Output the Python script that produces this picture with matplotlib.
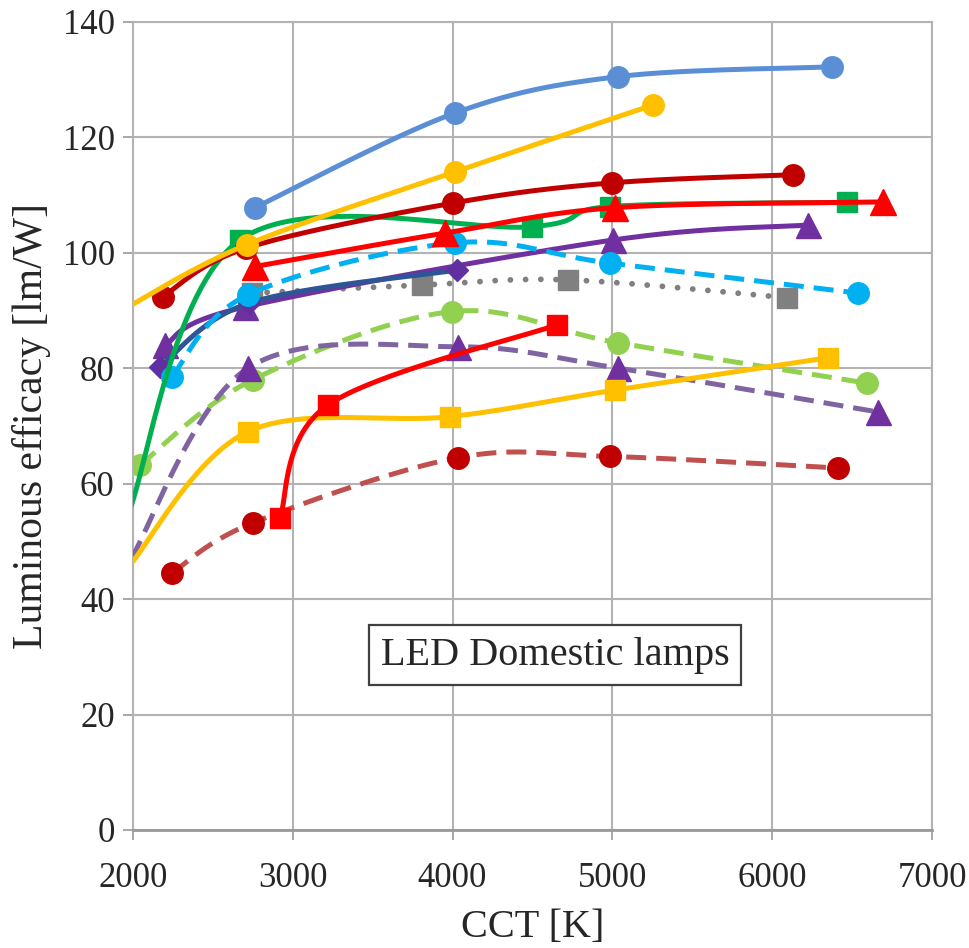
import numpy as np
import matplotlib
matplotlib.use("Agg")
import matplotlib.pyplot as plt

# CCT [K] and luminous efficacy [lm/W] of each lamp series
blue_cct = [2763, 4015, 5035, 6374]
blue_eff = [107.8, 124.2, 130.5, 132.2]

yellow_circ_cct = [1950, 2713, 4015, 5254]     # first point lies left of the axis
yellow_circ_eff = [90.3, 101.4, 114.0, 125.6]

darkred_cct = [2188, 2710, 4003, 4997, 6130]    # 2710 point hidden under the yellow one
darkred_eff = [92.4, 100.8, 108.6, 112.1, 113.5]

green_cct = [1975, 2670, 4497, 4985, 6468]      # first point lies left of the axis
green_eff = [55.0, 102.2, 104.5, 108.0, 108.7]

red_tri_cct = [2763, 3952, 5016, 6694]
red_tri_eff = [97.6, 103.4, 107.8, 108.8]

cyan_cct = [2244, 2720, 4015, 4985, 6537]
cyan_eff = [78.5, 92.7, 101.7, 98.2, 93.0]

purple_cct = [2200, 2700, 5004, 6224]
purple_eff = [84.0, 90.6, 102.2, 104.8]

navy_cct = [2169, 2730, 4028]
navy_eff = [80.2, 91.3, 97.0]

gray_cct = [2745, 3808, 4722, 6093]
gray_eff = [93.0, 94.4, 95.3, 92.2]

lgreen_cct = [2044, 2751, 3996, 5035, 6593]
lgreen_eff = [63.2, 78.0, 89.8, 84.4, 77.4]

lavender_cct = [1990, 2720, 4034, 5035, 6663]   # first point lies left of the axis
lavender_eff = [47.0, 80.0, 83.7, 80.0, 72.4]

yellow_sq_cct = [1985, 2720, 3984, 5016, 6349]  # first point lies left of the axis
yellow_sq_eff = [46.0, 69.0, 71.6, 76.2, 81.8]

red_sq_cct = [2920, 3220, 4653]
red_sq_eff = [54.1, 73.6, 87.5]

brick_cct = [2244, 2751, 4034, 4985, 6412]
brick_eff = [44.5, 53.2, 64.5, 64.7, 62.7]

x_ticks = [2000, 3000, 4000, 5000, 6000, 7000]
y_ticks = [0, 20, 40, 60, 80, 100, 120, 140]


def smooth(x, y, n=60):
    # spreadsheet style smoothed line (Catmull-Rom as cubic Bezier)
    x = np.asarray(x, float)
    y = np.asarray(y, float)
    px = np.concatenate([[x[0]], x, [x[-1]]])
    py = np.concatenate([[y[0]], y, [y[-1]]])
    t = np.linspace(0, 1, n)
    xs, ys = [], []
    for i in range(len(x) - 1):
        for p, out in ((px, xs), (py, ys)):
            p0, p1, p2, p3 = p[i], p[i + 1], p[i + 2], p[i + 3]
            c1 = p1 + (p2 - p0) / 6
            c2 = p2 - (p3 - p1) / 6
            b = (1 - t) ** 3 * p1 + 3 * (1 - t) ** 2 * t * c1 + 3 * (1 - t) * t ** 2 * c2 + t ** 3 * p2
            out.extend(b)
    return np.array(xs), np.array(ys)


plt.rcParams['font.family'] = ['Liberation Serif', 'DejaVu Serif']

fig = plt.figure(figsize=(9.69, 9.48), dpi=100)
ax = fig.add_axes([0.137, 0.1245, 0.825, 0.8525])

dash = (0, (4, 2))
dots = (0, (0.01, 2.6))

series = [
    # x, y, line colour, marker colour, marker, size, linestyle, hidden first points
    (gray_cct, gray_eff, '#808080', '#808080', 's', 15, dots, 0),
    (purple_cct, purple_eff, '#7030A0', '#7030A0', '^', 18, '-', 0),
    (navy_cct, navy_eff, '#2F5597', '#6030A0', 'D', 11, '-', 0),
    (cyan_cct, cyan_eff, '#00B0F0', '#00B0F0', 'o', 15.5, dash, 0),
    (lgreen_cct, lgreen_eff, '#92D050', '#92D050', 'o', 15.5, dash, 0),
    (lavender_cct, lavender_eff, '#8064A2', '#7030A0', '^', 18, dash, 1),
    (yellow_sq_cct, yellow_sq_eff, '#FFC000', '#FFC000', 's', 15, '-', 1),
    (brick_cct, brick_eff, '#C0504D', '#C00000', 'o', 15.5, dash, 0),
    (red_sq_cct, red_sq_eff, '#FF0000', '#FF0000', 's', 15, '-', 0),
    (green_cct, green_eff, '#00B050', '#00B050', 's', 15, '-', 1),
    (red_tri_cct, red_tri_eff, '#FF0000', '#FF0000', '^', 19, '-', 0),
    (darkred_cct, darkred_eff, '#C00000', '#C00000', 'o', 15.5, '-', 0),
    (yellow_circ_cct, yellow_circ_eff, '#FFC000', '#FFC000', 'o', 15.5, '-', 1),
    (blue_cct, blue_eff, '#5B8FD5', '#5B8FD5', 'o', 15.5, '-', 0),
]

for k, (xv, yv, lc, mc, mk, ms, ls, skip) in enumerate(series):
    sx, sy = smooth(xv, yv)
    lw = 4.2 if ls is dots else 3.6
    ax.plot(sx, sy, color=lc, lw=lw, linestyle=ls, dash_capstyle='round' if ls is dots else 'butt',
            solid_capstyle='round', zorder=3 + k)
    ax.plot(xv[skip:], yv[skip:], linestyle='none', marker=mk, ms=ms, color=mc,
            mec=mc, mew=1, zorder=3 + k)

ax.set_xlim(2000, 7000)
ax.set_ylim(0, 140)
ax.set_xticks(x_ticks)
ax.set_yticks(y_ticks)
ax.grid(True, color='#B3B3B3', lw=1.5)
ax.set_axisbelow(True)
for side in ('top', 'right', 'left'):
    ax.spines[side].set_color('#B3B3B3')
    ax.spines[side].set_linewidth(1.5)
ax.spines['bottom'].set_color('#9A9A9A')
ax.spines['bottom'].set_linewidth(2)
ax.tick_params(axis='both', direction='out', length=7, width=1.3, color='#A0A0A0',
               labelsize=25, labelcolor='#262626', pad=6)
ax.tick_params(axis='x', pad=16)

ax.set_xlabel('CCT [K]', fontsize=29, color='#262626', labelpad=10)
ax.set_ylabel('Luminous efficacy [lm/W]', fontsize=30, color='#262626', labelpad=8)

ax.text(4641, 30.3, 'LED Domestic lamps', fontsize=29, color='#262626', ha='center', va='center',
        zorder=30, bbox=dict(boxstyle='square,pad=0.28', fc='white', ec='#404040', lw=1.6))

fig.savefig('out.png', dpi=100)
